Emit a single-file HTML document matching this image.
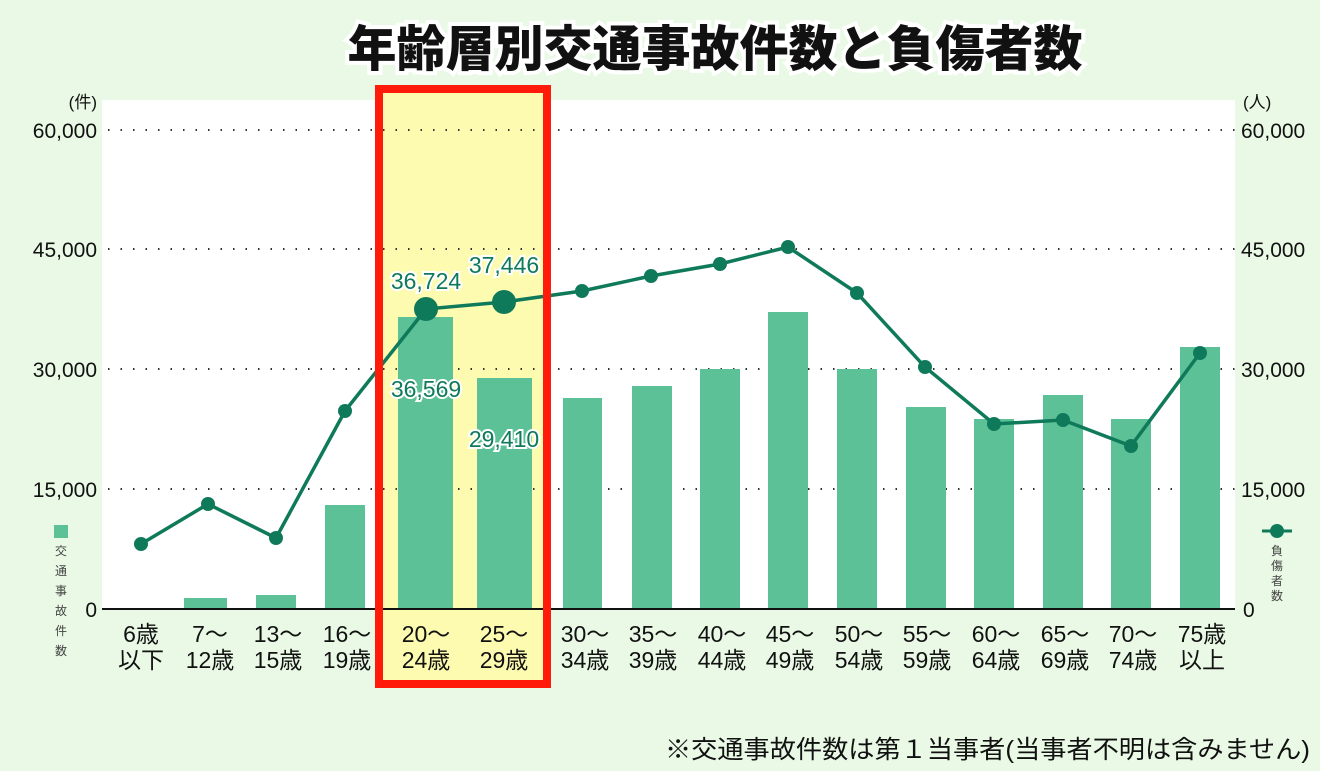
<!DOCTYPE html>
<html><head><meta charset="utf-8"><style>
html,body{margin:0;padding:0;background:#e9f9e5;}
svg{display:block;}
text{font-family:"Liberation Sans","Noto Sans CJK JP",sans-serif;}
</style></head><body>
<svg width="1320" height="771" viewBox="0 0 1320 771" xmlns="http://www.w3.org/2000/svg">
<rect width="1320" height="771" fill="#e9f9e5"/>
<rect x="102" y="100" width="1133" height="509" fill="#ffffff"/>
<rect x="383" y="92" width="160" height="588" fill="#fdfbb0"/>
<text x="715" y="66" text-anchor="middle" font-size="49" font-weight="900" fill="#111" stroke="#ffffff" stroke-width="8" paint-order="stroke" style="font-family:'Noto Sans CJK JP',sans-serif;font-weight:900">年齢層別交通事故件数と負傷者数</text>
<g stroke="#333" stroke-width="2" stroke-dasharray="1.5 11">
<line x1="108" y1="130" x2="1235" y2="130"/>
<line x1="108" y1="249" x2="1235" y2="249"/>
<line x1="108" y1="369" x2="1235" y2="369"/>
<line x1="108" y1="489" x2="1235" y2="489"/>
</g>
<g font-size="21" fill="#111" text-anchor="end">
<text x="97" y="108" font-size="17">(件)</text>
<text x="97" y="138">60,000</text>
<text x="97" y="257">45,000</text>
<text x="97" y="377">30,000</text>
<text x="97" y="497">15,000</text>
<text x="97" y="617">0</text>
</g>
<g font-size="21" fill="#111" text-anchor="start">
<text x="1243" y="108" font-size="17">(人)</text>
<text x="1241" y="138">60,000</text>
<text x="1241" y="257">45,000</text>
<text x="1241" y="377">30,000</text>
<text x="1241" y="497">15,000</text>
<text x="1243" y="617">0</text>
</g>
<rect x="54" y="525" width="14" height="13" fill="#5dc197"/>
<g font-size="12" fill="#444" text-anchor="middle">
<text x="61" y="555">交</text><text x="61" y="575">通</text><text x="61" y="595">事</text><text x="61" y="615">故</text><text x="61" y="635">件</text><text x="61" y="655">数</text>
</g>
<line x1="1262" y1="531" x2="1292" y2="531" stroke="#0f7a5a" stroke-width="3"/>
<circle cx="1277" cy="531" r="7" fill="#0f7a5a"/>
<g font-size="12" fill="#444" text-anchor="middle">
<text x="1277" y="555">負</text><text x="1277" y="570">傷</text><text x="1277" y="585">者</text><text x="1277" y="600">数</text>
</g>
<g fill="#5dc197">
<rect x="184" y="598" width="43" height="11"/>
<rect x="256" y="595" width="40" height="14"/>
<rect x="325" y="505" width="40" height="104"/>
<rect x="398" y="317" width="55" height="292"/>
<rect x="477" y="378" width="55" height="231"/>
<rect x="563" y="398" width="39" height="211"/>
<rect x="632" y="386" width="40" height="223"/>
<rect x="700" y="369" width="40" height="240"/>
<rect x="768" y="312" width="40" height="297"/>
<rect x="837" y="369" width="40" height="240"/>
<rect x="906" y="407" width="40" height="202"/>
<rect x="974" y="419" width="40" height="190"/>
<rect x="1043" y="395" width="40" height="214"/>
<rect x="1111" y="419" width="40" height="190"/>
<rect x="1180" y="347" width="40" height="262"/>
</g>
<line x1="102" y1="609" x2="1235" y2="609" stroke="#111" stroke-width="2"/>
<polyline fill="none" stroke="#0f7a5a" stroke-width="3.5" points="141,544 208,504 276,538 345,411 426,309 504,302 582,291 651,276 720,264 788,247 857,293 925,367 994,424 1063,420 1131,446 1200,353"/>
<g fill="#0f7a5a">
<circle cx="141" cy="544" r="7"/><circle cx="208" cy="504" r="7"/><circle cx="276" cy="538" r="7"/><circle cx="345" cy="411" r="7"/>
<circle cx="426" cy="309" r="12"/><circle cx="504" cy="302" r="12"/>
<circle cx="582" cy="291" r="7"/><circle cx="651" cy="276" r="7"/><circle cx="720" cy="264" r="7"/><circle cx="788" cy="247" r="7"/><circle cx="857" cy="293" r="7"/><circle cx="925" cy="367" r="7"/><circle cx="994" cy="424" r="7"/><circle cx="1063" cy="420" r="7"/><circle cx="1131" cy="446" r="7"/><circle cx="1200" cy="353" r="7"/>
</g>
<g font-size="23" fill="#0f7a5a" stroke="#fff" stroke-width="4" paint-order="stroke" text-anchor="middle">
<text x="426" y="289">36,724</text>
<text x="504" y="273">37,446</text>
<text x="426" y="397">36,569</text>
<text x="504" y="447">29,410</text>
</g>
<g font-size="23" fill="#111" text-anchor="middle">
<text x="141" y="642">6歳</text><text x="141" y="668">以下</text>
<text x="210" y="642">7～</text><text x="210" y="668">12歳</text>
<text x="278" y="642">13～</text><text x="278" y="668">15歳</text>
<text x="347" y="642">16～</text><text x="347" y="668">19歳</text>
<text x="426" y="642">20～</text><text x="426" y="668">24歳</text>
<text x="504" y="642">25～</text><text x="504" y="668">29歳</text>
<text x="585" y="642">30～</text><text x="585" y="668">34歳</text>
<text x="653" y="642">35～</text><text x="653" y="668">39歳</text>
<text x="722" y="642">40～</text><text x="722" y="668">44歳</text>
<text x="790" y="642">45～</text><text x="790" y="668">49歳</text>
<text x="859" y="642">50～</text><text x="859" y="668">54歳</text>
<text x="927" y="642">55～</text><text x="927" y="668">59歳</text>
<text x="996" y="642">60～</text><text x="996" y="668">64歳</text>
<text x="1065" y="642">65～</text><text x="1065" y="668">69歳</text>
<text x="1133" y="642">70～</text><text x="1133" y="668">74歳</text>
<text x="1202" y="642">75歳</text><text x="1202" y="668">以上</text>
</g>
<rect x="379" y="89" width="168" height="595" fill="none" stroke="#ff1a0a" stroke-width="8"/>
<text x="1310" y="758" text-anchor="end" font-size="25" fill="#111" textLength="645" lengthAdjust="spacingAndGlyphs">※交通事故件数は第１当事者(当事者不明は含みません)</text>
</svg>
</body></html>
